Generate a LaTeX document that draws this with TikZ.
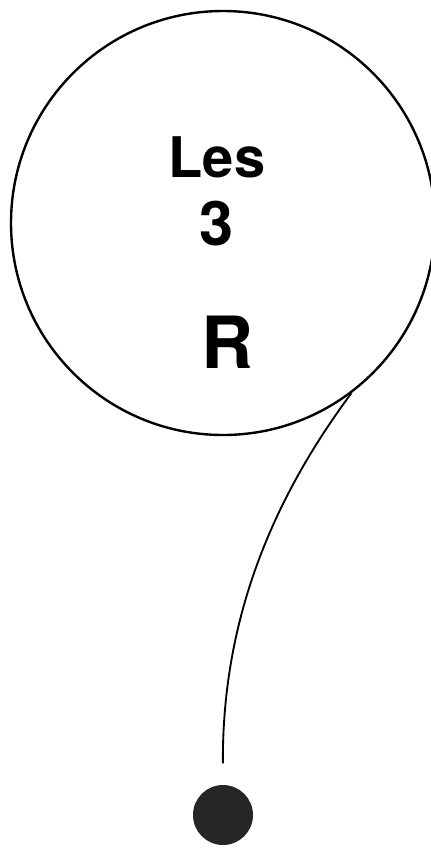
\documentclass[tikz,border=0pt]{standalone}
\usepackage{fontspec}
\setmainfont{TeX Gyre Heros}
\usepackage{tikz}

\tikzset{
	bulle/.style={draw, circle, line width=1.8pt, minimum size=318pt, inner sep=0pt},
	mot/.style={inner sep=0pt, font=\bfseries\fontsize{42}{44}\selectfont},
	lettre/.style={inner sep=0pt, font=\bfseries\fontsize{54}{56}\selectfont},
	ficelle/.style={line width=1.4pt},
	poids/.style={circle, fill=black!85, minimum size=45pt, inner sep=0pt}
}

\begin{document}
\begin{tikzpicture}[x=0.75pt, y=-0.75pt]
	\useasboundingbox (0,0) rectangle (431,850);
	% la bulle et son texte
	\node[bulle] (rond) at (223,223) {};
	\node[mot] (les) at (217,157) {Les};
	\node[mot, font=\bfseries\fontsize{46}{48}\selectfont] (trois) at (217,224) {3};
	\node[lettre] (erre) at (227,342) {R};
	% le fil et le point
	\node[poids] (point) at (223,815) {};
	\draw[ficelle, shorten >=16pt] (rond.-53) .. controls (272,500) and (222,620) .. (point.north);
\end{tikzpicture}
\end{document}
